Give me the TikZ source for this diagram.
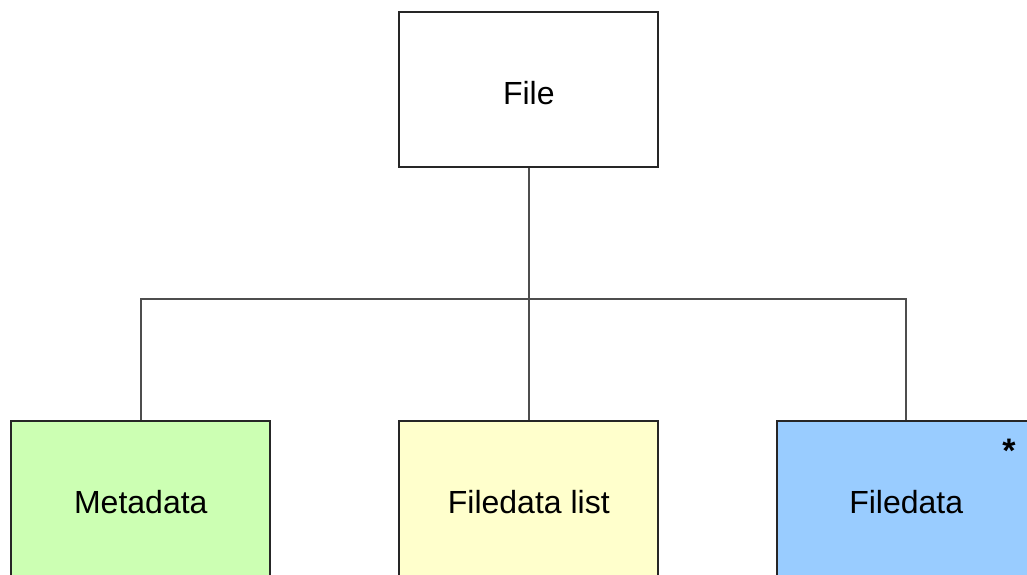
\documentclass[tikz,border=0pt]{standalone}
\usepackage{fontspec}
\setmainfont{Liberation Sans}
\definecolor{boxgreen}{HTML}{CCFFB3}
\definecolor{boxyellow}{HTML}{FFFFCC}
\definecolor{boxblue}{HTML}{99CCFF}
\definecolor{edgegray}{HTML}{4D4D4D}
\begin{document}
\begin{tikzpicture}[x=1pt,y=-1pt,
  box/.style={draw=black!85, line width=1.7pt, minimum width=259pt, minimum height=155pt,
    inner sep=0pt, font=\fontsize{32}{38}\selectfont, text height=30pt, text depth=-8pt},
  conn/.style={draw=edgegray, line width=1.6pt}]
\clip (0,0) rectangle (1027,574);
\useasboundingbox (0,0) rectangle (1027,574);
\fill[white] (0,0) rectangle (1027,574);
\node[box, fill=white] (file) at (528.8,89.2) {File};
\node[box, fill=boxgreen] (meta) at (140.8,498.2) {Metadata};
\node[box, fill=boxyellow] (list) at (528.8,498.2) {Filedata list};
\node[box, fill=boxblue] (fd) at (906.2,498.2) {Filedata};
\coordinate (hub) at (528.8,299);
\draw[conn] (file.south) -- (list.north);
\draw[conn] (meta.north) |- (hub) -| (fd.north);
\node[font=\bfseries\fontsize{34}{40}\selectfont, inner sep=0pt] (star) at (1009,451) {*};
\end{tikzpicture}
\end{document}
